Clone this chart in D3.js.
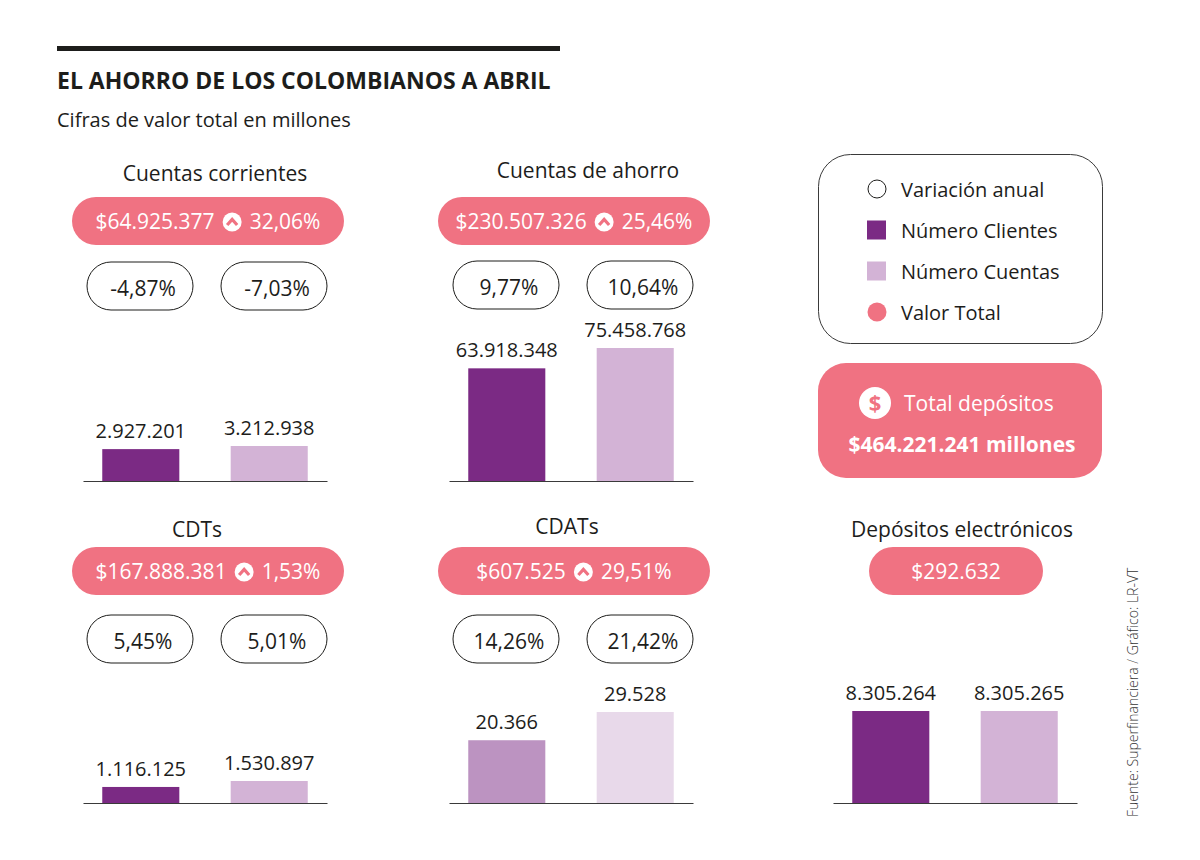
<!DOCTYPE html>
<html>
<head>
<meta charset="utf-8">
<script src="https://cdn.jsdelivr.net/npm/d3@7"></script>
<style>
  body { margin: 0; background: #fff; }
  svg { display: block; font-family: "Open Sans", sans-serif; }
</style>
</head>
<body>
<div id="chart"></div>
<script>
"use strict";

// datos (Superfinanciera, abril)
var categorias = ['Cuentas corrientes', 'Cuentas de ahorro', 'CDTs', 'CDATs', 'Depósitos electrónicos'];
var valorTotal = [64925377, 230507326, 167888381, 607525, 292632];
var variacionValor = [32.06, 25.46, 1.53, 29.51, null];
var numeroClientes = [2927201, 63918348, 1116125, 20366, 8305264];
var numeroCuentas = [3212938, 75458768, 1530897, 29528, 8305265];
var variacionClientes = [-4.87, 9.77, 5.45, 14.26, null];
var variacionCuentas = [-7.03, 10.64, 5.01, 21.42, null];
var totalDepositos = 464221241;
var series = ['clientes', 'cuentas'];
var leyenda = ['Variación anual', 'Número Clientes', 'Número Cuentas', 'Valor Total'];

var PINK = '#f07282';
var INK = '#1d1d1b';

// layout of each small panel (axis start, baseline, tallest bar)
var panels = [
  { x0: 83,  base: 481, titleDx: 10, titleY: 181, pillY: 197, circY: 262, maxH: 35,  colors: ['#7b2a84', '#d3b3d6'] },
  { x0: 449, base: 481, titleDx: 17, titleY: 178, pillY: 197, circY: 261, maxH: 133, colors: ['#7b2a84', '#d3b3d6'] },
  { x0: 83,  base: 803, titleDx: -8, titleY: 537, pillY: 547, circY: 615, maxH: 22,  colors: ['#7b2a84', '#d3b3d6'] },
  { x0: 449, base: 803, titleDx: -4, titleY: 534, pillY: 547, circY: 615, maxH: 91,  colors: ['#bc93c1', '#e8d9ea'] },
  { x0: 833, base: 803, titleDx: 7,  titleY: 537, pillY: 547, circY: null, maxH: 92, colors: ['#7b2a84', '#d3b3d6'] }
];
var AXIS_W = 244;

var es = d3.formatLocale({ decimal: ',', thousands: '.', grouping: [3], currency: ['$', ''], minus: '-' });
var fmtNum = es.format(',d');
var fmtMoney = es.format('$,d');
var fmtPct = es.format('.2f');

var svg = d3.select('#chart').append('svg').attr('width', 1200).attr('height', 860);

// header
svg.append('rect').attr('x', 57).attr('y', 46).attr('width', 503).attr('height', 5).attr('fill', INK);
svg.append('text').attr('x', 57).attr('y', 89).attr('font-size', 23).attr('font-weight', 700)
  .attr('fill', INK).text('EL AHORRO DE LOS COLOMBIANOS A ABRIL');
svg.append('text').attr('x', 57).attr('y', 127).attr('font-size', 20)
  .attr('fill', INK).text('Cifras de valor total en millones');

function chevron(g, cx, cy) {
  g.append('circle').attr('cx', cx).attr('cy', cy).attr('r', 9.5).attr('fill', '#fff');
  g.append('path')
    .attr('d', 'M' + (cx - 5) + ',' + (cy + 3) + 'L' + cx + ',' + (cy - 2.5) + 'L' + (cx + 5) + ',' + (cy + 3))
    .attr('fill', 'none').attr('stroke', PINK).attr('stroke-width', 3.2);
}

panels.forEach(function(p, i) {
  var g = svg.append('g').attr('class', 'panel');
  var cx = p.x0 + AXIS_W / 2;

  g.append('text').attr('x', cx + p.titleDx).attr('y', p.titleY).attr('text-anchor', 'middle')
    .attr('font-size', 21).attr('fill', INK).text(categorias[i]);

  // valor total pill
  var pillW = variacionValor[i] === null ? 174 : 272;
  var pillX = variacionValor[i] === null ? 869 : p.x0 - 11;
  g.append('rect').attr('x', pillX).attr('y', p.pillY).attr('width', pillW).attr('height', 48)
    .attr('rx', 24).attr('fill', PINK);

  var ty = p.pillY + 32;
  var v = g.append('text').attr('y', ty).attr('font-size', 21).attr('fill', '#fff').text(fmtMoney(valorTotal[i]));
  if (variacionValor[i] === null) {
    v.attr('x', pillX + pillW / 2).attr('text-anchor', 'middle');
  } else {
    var pct = g.append('text').attr('y', ty).attr('font-size', 21).attr('fill', '#fff')
      .text(fmtPct(variacionValor[i]) + '%');
    var w1 = v.node().getComputedTextLength();
    var w2 = pct.node().getComputedTextLength();
    var gap = 8, ic = 19;
    var start = pillX + pillW / 2 - (w1 + w2 + ic + 2 * gap) / 2;
    v.attr('x', start);
    chevron(g, start + w1 + gap + ic / 2, p.pillY + 25);
    pct.attr('x', start + w1 + 2 * gap + ic);
  }

  // variación anual pills
  if (p.circY !== null) {
    [variacionClientes[i], variacionCuentas[i]].forEach(function(val, j) {
      var x = p.x0 + 4 + j * 134;
      g.append('rect').attr('x', x).attr('y', p.circY).attr('width', 106).attr('height', 48)
        .attr('rx', 24).attr('fill', '#fff').attr('stroke', INK).attr('stroke-width', 1);
      g.append('text').attr('x', x + 56).attr('y', p.circY + 34).attr('text-anchor', 'middle')
        .attr('font-size', 21).attr('fill', INK).text(fmtPct(val) + '%');
    });
  }

  // bars
  var vals = [numeroClientes[i], numeroCuentas[i]];
  var x = d3.scaleBand().domain(series).range([p.x0, p.x0 + AXIS_W]).paddingInner(0.4).paddingOuter(0.15);
  var y = d3.scaleLinear().domain([0, d3.max(vals)]).range([p.base, p.base - p.maxH]);

  g.selectAll('rect.bar').data(vals).enter().append('rect').attr('class', 'bar')
    .attr('x', function(d, j) { return x(series[j]); })
    .attr('y', function(d) { return y(d); })
    .attr('width', x.bandwidth())
    .attr('height', function(d) { return p.base - y(d) + 1; })
    .attr('fill', function(d, j) { return p.colors[j]; });

  g.selectAll('text.lbl').data(vals).enter().append('text').attr('class', 'lbl')
    .attr('x', function(d, j) { return x(series[j]) + x.bandwidth() / 2; })
    .attr('y', function(d) { return y(d) - 11; })
    .attr('text-anchor', 'middle').attr('font-size', 20).attr('fill', INK)
    .text(function(d) { return fmtNum(d); });

  var ax = g.append('g').attr('transform', 'translate(0,' + p.base + ')')
    .call(d3.axisBottom(x).tickValues([]).tickSizeOuter(0));
  ax.select('.domain').attr('stroke', '#3a3a3a').attr('stroke-width', 1.2);
});

// legend
var lg = svg.append('g');
lg.append('rect').attr('x', 818.5).attr('y', 154.5).attr('width', 284).attr('height', 189)
  .attr('rx', 32).attr('fill', '#fff').attr('stroke', '#3a3a3a');
var ly = d3.scalePoint().domain(leyenda).range([189, 312]);
leyenda.forEach(function(name, k) {
  var yy = ly(name);
  if (k === 0) {
    lg.append('circle').attr('cx', 877).attr('cy', yy).attr('r', 9).attr('fill', '#fff').attr('stroke', INK);
  } else if (k === 3) {
    lg.append('circle').attr('cx', 877).attr('cy', yy).attr('r', 9.5).attr('fill', PINK);
  } else {
    lg.append('rect').attr('x', 867).attr('y', yy - 9.5).attr('width', 19).attr('height', 19)
      .attr('fill', panels[0].colors[k - 1]);
  }
  lg.append('text').attr('x', 901).attr('y', yy + 8).attr('font-size', 20).attr('fill', INK).text(name);
});

// total depósitos
var tg = svg.append('g');
tg.append('rect').attr('x', 818).attr('y', 363).attr('width', 284).attr('height', 115)
  .attr('rx', 28).attr('fill', PINK);
tg.append('circle').attr('cx', 875).attr('cy', 403).attr('r', 16).attr('fill', '#fff');
tg.append('text').attr('x', 875).attr('y', 411).attr('text-anchor', 'middle').attr('font-size', 22)
  .attr('font-weight', 700).attr('fill', PINK).text('$');
tg.append('text').attr('x', 904).attr('y', 411).attr('font-size', 21).attr('fill', '#fff').text('Total depósitos');
tg.append('text').attr('x', 962).attr('y', 452).attr('text-anchor', 'middle').attr('font-size', 21)
  .attr('font-weight', 700).attr('fill', '#fff').text(fmtMoney(totalDepositos) + ' millones');

// fuente
svg.append('text').attr('transform', 'translate(1138,817) rotate(-90)')
  .attr('font-size', 14).attr('font-weight', 300).attr('fill', '#333')
  .text('Fuente: Superfinanciera / Gráfico: LR-VT');
</script>
</body>
</html>
